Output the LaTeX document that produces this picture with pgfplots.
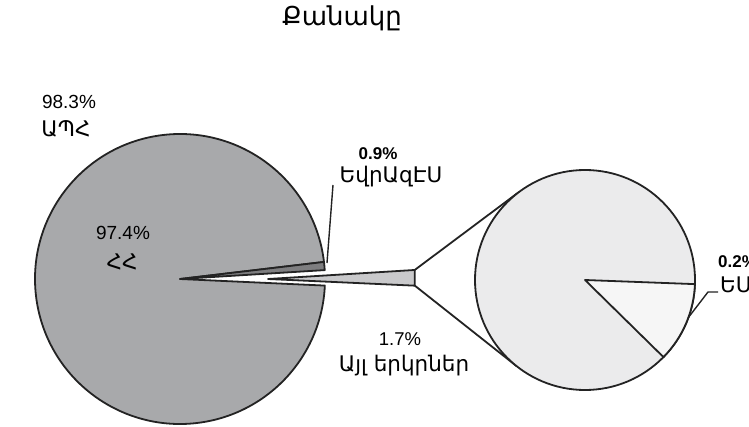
\documentclass[border=0pt]{standalone}
\usepackage{pgfplots}
\pgfplotsset{compat=1.18}
\usepackage{fontspec}
\setmainfont{DejaVu Sans}
\newfontfamily\arm{DejaVu Sans}
\newfontfamily\num{Liberation Sans}
\definecolor{hhgray}{HTML}{A8A9AB}
\definecolor{eagray}{HTML}{7E7E80}
\definecolor{otgray}{HTML}{C9C9CB}
\definecolor{pie2}{HTML}{EBEBEC}
\definecolor{eugray}{HTML}{F6F6F6}
\definecolor{edge}{HTML}{232323}
\definecolor{txt}{HTML}{303030}

\begin{document}
\begin{tikzpicture}
% shares in percent
\def\vHH{97.4}
\def\vEA{0.9}
\def\vOT{1.7}
\def\vEU{0.2}
% slice angles, first pie
\pgfmathsetmacro\aStart{-2.6}
\pgfmathsetmacro\aOT{\aStart+3.6*\vOT}
\pgfmathsetmacro\aEA{\aOT+3.6*\vEA}
\pgfmathsetmacro\aHH{\aEA+3.6*\vHH}
% second pie
\pgfmathsetmacro\bStart{-44.5}
\pgfmathsetmacro\bEU{\bStart+360*\vEU/\vOT}
\begin{axis}[
  x=1pt, y=1pt,
  xmin=0, xmax=749, ymin=0, ymax=426,
  hide axis, clip=false,
  every node/.style={text=txt},
]
  % first pie
  \filldraw[fill=hhgray, draw=edge, line width=1.8pt, line join=round]
    (axis cs:180,147) -- +(\aEA:145pt) arc[start angle=\aEA, end angle=\aHH, radius=145pt] -- cycle;
  \filldraw[fill=eagray, draw=edge, line width=1.8pt, line join=round]
    (axis cs:180,147) -- +(\aOT:145pt) arc[start angle=\aOT, end angle=\aEA, radius=145pt] -- cycle;
  % exploded slice
  \filldraw[fill=otgray, draw=edge, line width=1.8pt, line join=round]
    (axis cs:268,147) -- +(\aStart:147pt) -- +(\aOT:147pt) -- cycle;
  % connectors
  \draw[edge, line width=1.8pt] (axis cs:268,147) ++(\aOT:147pt) -- (axis cs:519,234);
  \draw[edge, line width=1.8pt] (axis cs:268,147) ++(\aStart:147pt) -- (axis cs:516.7,59.8);
  % second pie
  \filldraw[fill=pie2, draw=edge, line width=1.8pt]
    (axis cs:585,146) circle[radius=110pt];
  \filldraw[fill=eugray, draw=edge, line width=1.8pt, line join=round]
    (axis cs:585,146) -- +(\bStart:110pt) arc[start angle=\bStart, end angle=\bEU, radius=110pt] -- cycle;
  % leader lines
  \draw[edge, line width=1.4pt] (axis cs:327,163) -- (axis cs:333,241);
  \draw[edge, line width=1.4pt] (axis cs:688,108) -- (axis cs:708,134) -- (axis cs:718,134);
  % labels
  \node[font=\arm\fontsize{26}{30}\selectfont] at (axis cs:342,408) {Քանակը};
  \node[font=\num\fontsize{19}{22}\selectfont] at (axis cs:69,324) {98.3\%};
  \node[font=\arm\fontsize{21.5}{24}\selectfont] at (axis cs:66,297) {ԱՊՀ};
  \node[font=\num\fontsize{19}{22}\selectfont] at (axis cs:123,193) {97.4\%};
  \node[font=\arm\fontsize{21.5}{24}\selectfont] at (axis cs:122,164) {ՀՀ};
  \node[font=\num\bfseries\fontsize{17}{20}\selectfont] at (axis cs:378,272) {0.9\%};
  \node[font=\arm\fontsize{21.5}{24}\selectfont] at (axis cs:391,249) {ԵվրԱզԷՍ};
  \node[font=\num\fontsize{18.5}{22}\selectfont] at (axis cs:400,87) {1.7\%};
  \node[font=\arm\fontsize{21.5}{24}\selectfont] at (axis cs:404,60) {Այլ երկրներ};
  \node[font=\num\bfseries\fontsize{17}{20}\selectfont, anchor=west, inner sep=0pt] at (axis cs:718,164) {0.2\%};
  \node[font=\arm\fontsize{21.5}{24}\selectfont, anchor=west, inner sep=0pt] at (axis cs:720,141) {ԵՄ};
\end{axis}
\pgfresetboundingbox
\useasboundingbox (current axis.south west) rectangle (current axis.north east);
\end{tikzpicture}
\end{document}
